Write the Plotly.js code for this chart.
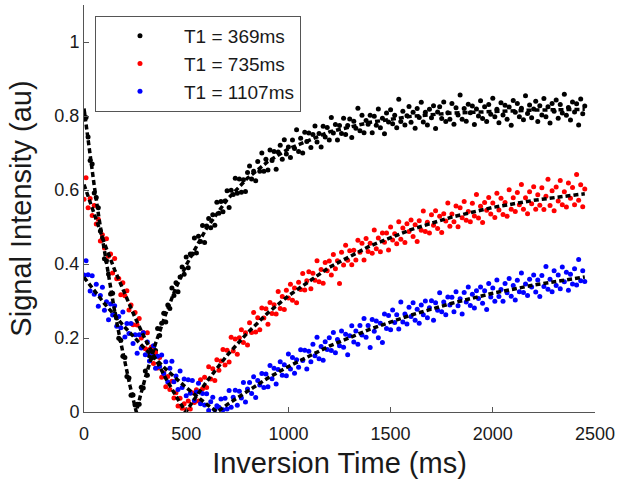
<!DOCTYPE html>
<html>
<head>
<meta charset="utf-8">
<script src="https://cdn.plot.ly/plotly-3.0.1.min.js"></script>
<style>html,body{margin:0;padding:0;background:#fff;}#chart{width:618px;height:480px;}</style>
</head>
<body>
<div id="chart"></div>
<script>
// Sampling of the inversion times (ms): first point and spacing
const tStart = 0;
const tStep = 10;

const seriesNames = ['T1 = 369ms', 'T1 = 735ms', 'T1 = 1107ms'];

// Measured signal intensity (au), T1 = 369 ms
const sig369 = [
.805,.796,.743,.680,.670,.592,.580,.552,.489,.469,
.414,.409,.373,.319,.321,.266,.254,.199,.194,.151,
.147,.096,.092,.045,.046,.019,.021,.021,.067,.065,
.111,.099,.152,.145,.177,.166,.226,.207,.240,.267,
.243,.289,.280,.335,.315,.349,.325,.365,.392,.372,
.419,.390,.427,.427,.470,.430,.475,.461,.504,.458,
.503,.523,.498,.533,.505,.567,.537,.569,.541,.570,
.598,.553,.599,.588,.632,.591,.630,.594,.628,.596,
.647,.665,.630,.651,.625,.677,.651,.700,.651,.683,
.654,.708,.680,.704,.656,.703,.721,.683,.736,.697,
.716,.688,.735,.712,.763,.704,.740,.700,.756,.731,
.754,.715,.750,.773,.730,.753,.716,.772,.743,.769,
.735,.796,.754,.777,.735,.774,.753,.794,.750,.774,
.792,.742,.786,.767,.821,.760,.802,.755,.788,.778,
.802,.755,.799,.775,.819,.768,.794,.752,.808,.784,
.817,.779,.802,.768,.845,.785,.813,.776,.801,.826,
.783,.810,.767,.820,.796,.837,.784,.810,.776,.818,
.795,.828,.766,.811,.825,.793,.838,.785,.809,.791,
.834,.778,.822,.803,.857,.791,.820,.786,.832,.809,
.827,.777,.819,.800,.841,.793,.825,.785,.831,.805,
.848,.798,.818,.782,.836,.803,.829,.791,.824,.775,
.842,.810,.834,.798,.821,.790,.855,.807,.830,.795,
.819,.840,.785,.828,.803,.847,.798,.825,.781,.834,
.813,.843,.794,.831,.808,.859,.802,.823,.789,.838,
.811,.833,.776,.846,.806,.827];

// Measured signal intensity (au), T1 = 735 ms
const sig735 = [
.575,.633,.552,.577,.531,.558,.508,.521,.462,.479,
.443,.468,.421,.427,.376,.415,.360,.361,.317,.349,
.314,.328,.276,.289,.236,.269,.235,.253,.200,.215,
.171,.214,.169,.176,.131,.160,.119,.147,.094,.106,
.068,.096,.061,.083,.038,.052,.016,.037,.010,.022,
.006,.030,.008,.052,.026,.060,.030,.087,.063,.094,
.066,.122,.089,.117,.085,.141,.113,.138,.169,.127,
.167,.135,.202,.165,.197,.156,.201,.222,.188,.214,
.181,.241,.215,.269,.216,.255,.222,.281,.254,.279,
.237,.296,.266,.290,.265,.326,.280,.312,.277,.329,
.308,.345,.302,.335,.295,.351,.331,.374,.330,.355,
.379,.333,.375,.356,.409,.352,.385,.348,.404,.382,
.408,.370,.426,.387,.409,.347,.432,.397,.451,.410,
.436,.398,.437,.411,.464,.432,.456,.411,.469,.434,
.456,.429,.492,.441,.470,.433,.484,.459,.484,.438,
.500,.465,.482,.455,.514,.467,.497,.458,.509,.488,
.519,.474,.506,.461,.517,.491,.543,.488,.513,.484,
.533,.505,.544,.496,.529,.485,.536,.516,.565,.502,
.535,.514,.557,.501,.552,.525,.569,.518,.542,.514,
.564,.530,.588,.524,.556,.512,.566,.545,.580,.535,
.565,.526,.591,.546,.578,.534,.566,.529,.601,.548,
.579,.542,.593,.560,.615,.548,.579,.536,.595,.563,
.609,.548,.587,.559,.606,.547,.583,.629,.558,.598,
.544,.608,.570,.626,.560,.595,.554,.619,.578,.607,
.560,.642,.572,.614,.555,.603];

// Measured signal intensity (au), T1 = 1107 ms
const sig1107 = [
.370,.409,.371,.327,.368,.318,.345,.286,.315,.337,
.275,.298,.249,.292,.262,.287,.232,.258,.228,.270,
.203,.239,.212,.239,.185,.209,.159,.209,.173,.214,
.155,.189,.138,.160,.179,.118,.151,.123,.154,.104,
.136,.081,.118,.137,.082,.097,.061,.111,.066,.089,
.044,.087,.051,.085,.031,.054,.078,.022,.050,.019,
.049,.004,.028,.040,.006,.017,.013,.035,.006,.037,
.008,.058,.013,.040,.059,.018,.056,.038,.080,.027,
.062,.080,.050,.095,.039,.085,.073,.104,.066,.103,
.068,.126,.090,.118,.076,.115,.136,.099,.128,.098,
.157,.116,.147,.105,.141,.121,.168,.139,.167,.116,
.164,.136,.183,.152,.202,.144,.177,.140,.190,.169,
.201,.166,.215,.160,.196,.179,.219,.175,.210,.155,
.206,.233,.189,.219,.183,.234,.208,.253,.202,.234,
.174,.250,.218,.246,.201,.240,.188,.265,.226,.261,
.222,.276,.242,.263,.224,.297,.243,.265,.238,.283,
.258,.295,.248,.278,.240,.289,.263,.300,.255,.282,
.301,.248,.295,.275,.322,.271,.297,.263,.311,.289,
.310,.271,.325,.287,.306,.265,.323,.297,.338,.288,
.318,.281,.328,.307,.338,.294,.328,.277,.347,.311,
.335,.299,.357,.312,.331,.299,.347,.322,.361,.313,
.342,.303,.356,.325,.376,.323,.346,.315,.359,.338,
.370,.324,.357,.312,.369,.339,.393,.332,.359,.325,
.382,.342,.370,.333,.392,.352,.378,.329,.372,.346,
.387,.343,.412,.355,.382,.353];

// Fitted recovery curves (dashed black)
const fit369T = [0,25,50,75,100,125,150,175,200,225,250,256,275,300,350,400,450,500,600,700,800,900,1000,1200,1400,1600,1800,2000,2200,2450];
const fit369S = [0.820,0.713,0.612,0.518,0.431,0.349,0.272,0.201,0.134,0.071,0.013,0,0.042,0.093,0.185,0.265,0.336,0.397,0.497,0.574,0.632,0.677,0.711,0.757,0.783,0.799,0.808,0.813,0.816,0.818];
const fit735T = [0,50,100,150,200,250,300,350,400,450,498,550,600,700,800,900,1000,1200,1400,1600,1800,2000,2200,2450];
const fit735S = [0.615,0.533,0.456,0.384,0.317,0.255,0.196,0.142,0.091,0.043,0,0.043,0.082,0.153,0.214,0.268,0.314,0.391,0.449,0.493,0.527,0.553,0.572,0.590];
const fit1107T = [0,100,200,300,400,500,600,652,700,800,900,1000,1200,1400,1600,1800,2000,2200,2450];
const fit1107S = [0.364,0.293,0.229,0.170,0.116,0.066,0.021,0,0.020,0.057,0.092,0.123,0.178,0.224,0.262,0.294,0.321,0.343,0.365];

const xTickVals = [0,500,1000,1500,2000,2500];
const yTickVals = [0,0.2,0.4,0.6,0.8,1];
const yTickText = ['0','0.2','0.4','0.6','0.8','1'];

const FONT = 'Arial, "Liberation Sans", Helvetica, sans-serif';
const colors = ['#000000', '#ff0000', '#0000ff'];
const sigs = [sig369, sig735, sig1107];

const traces = [];
sigs.forEach((s, i) => {
  traces.push({
    type: 'scatter', mode: 'markers', name: seriesNames[i],
    x0: tStart, dx: tStep, y: s,
    marker: {color: colors[i], size: 5},
    cliponaxis: true
  });
});
[[fit369T, fit369S], [fit735T, fit735S], [fit1107T, fit1107S]].forEach(f => {
  traces.push({
    type: 'scatter', mode: 'lines', x: f[0], y: f[1], showlegend: false,
    line: {color: '#000000', width: 3.5, dash: '5px,3px'}, hoverinfo: 'skip'
  });
});

const axisCommon = {
  showline: true, linecolor: '#555', linewidth: 1, mirror: false,
  ticks: 'inside', ticklen: 5, tickcolor: '#555', tickwidth: 1,
  showgrid: false, zeroline: false,
  tickfont: {family: FONT, size: 18, color: '#1a1a1a'}
};

const layout = {
  width: 618, height: 480,
  margin: {l: 84, r: 23, t: 5, b: 68},
  paper_bgcolor: '#fff', plot_bgcolor: '#fff',
  font: {family: FONT, color: '#1a1a1a'},
  xaxis: Object.assign({}, axisCommon, {
    range: [0, 2500], tickvals: xTickVals, ticktext: xTickVals.map(String),
    ticklabelstandoff: 5,
    title: {text: 'Inversion Time (ms)', font: {family: FONT, size: 29, color: '#1a1a1a'}, standoff: 10},
    automargin: false
  }),
  yaxis: Object.assign({}, axisCommon, {
    range: [0, 1.1], tickvals: yTickVals, ticktext: yTickText,
    title: {text: 'Signal Intensity (au)', font: {family: FONT, size: 29, color: '#1a1a1a'}, standoff: 14},
    automargin: false
  }),
  showlegend: true,
  legend: {
    x: 0.0215, y: 0.973, xanchor: 'left', yanchor: 'top',
    bgcolor: '#fff', bordercolor: '#555', borderwidth: 1,
    font: {family: FONT, size: 19, color: '#1a1a1a'},
    itemwidth: 78
  }
};

Plotly.newPlot('chart', traces, layout, {displayModeBar: false, staticPlot: true});
</script>
</body>
</html>
